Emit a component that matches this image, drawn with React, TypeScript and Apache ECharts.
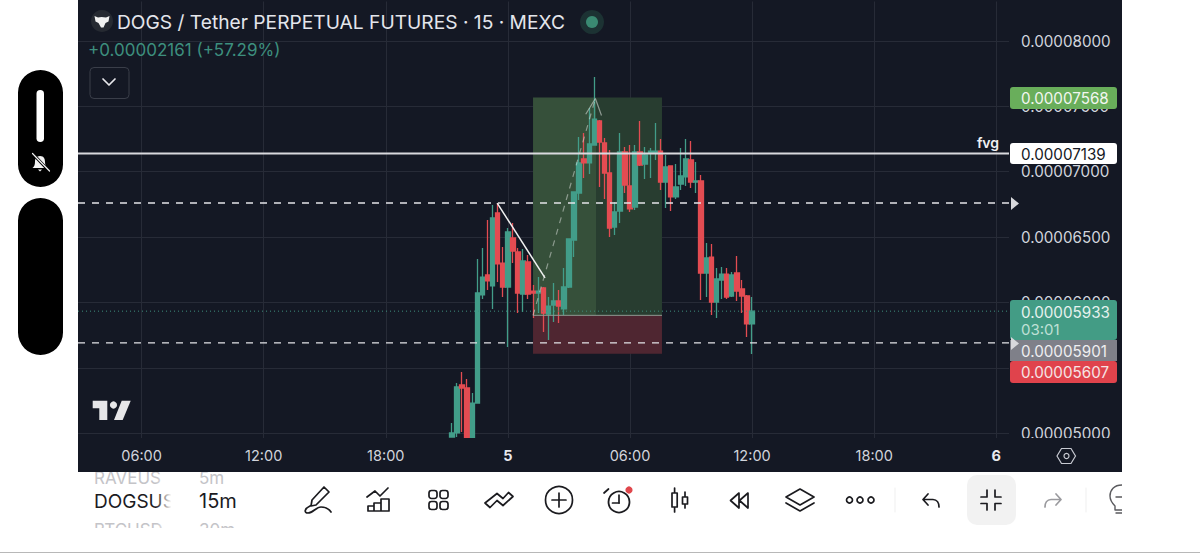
import React, { useEffect, useRef } from "react";
import * as echarts from "echarts";

// Prices are in units of 1e-8 USDT; the first candle sits on bar 73 of the time axis.
const firstCandleBar = 73;
const totalBars = 183;
const firstTickBar = 12;
const tickStep = 24;
const timeTicks = ["06:00", "12:00", "18:00", "5", "06:00", "12:00", "18:00", "6"];
const boldTicks = ["5", "6"];
const priceTicks = [5000, 6000, 6500, 7000, 7500, 8000];

const opens = [4970, 5001, 5368, 5345, 4950, 5230, 6057, 6210, 6126, 6684, 6301, 6118, 6493, 6386, 6064, 6309, 6087, 6072, 6110, 5911, 5980, 6011, 5950, 6118, 6477, 6837, 7097, 7067, 7204, 7388, 7220, 6990, 6577, 6699, 7151, 6891, 6730, 7151, 7059, 7143, 7143, 7158, 6921, 7044, 6807, 6906, 6960, 7090, 6921, 6929, 6225, 6347, 6003, 6171, 6217, 6049, 6225, 6103, 6049, 5835];
const closes = [5001, 5353, 5345, 4950, 5230, 6072, 6194, 6164, 6646, 6294, 6118, 6539, 6393, 6072, 6317, 6064, 6072, 6087, 5919, 5972, 6011, 5972, 6118, 6485, 6845, 7067, 7067, 7212, 7403, 7227, 6990, 6569, 6692, 7151, 6898, 6715, 7151, 7051, 7128, 7158, 7158, 6921, 7036, 6807, 6883, 6967, 7097, 6921, 6929, 6225, 6340, 6003, 6179, 6217, 6041, 6210, 6087, 6049, 5835, 5933];
const lows = [4970, 4970, 5008, 4950, 4950, 5230, 6026, 6095, 5950, 6156, 6041, 5659, 6301, 5919, 5927, 6026, 5881, 5919, 5774, 5712, 5850, 5842, 5904, 6110, 6347, 6783, 6952, 6982, 7204, 6883, 6791, 6500, 6516, 6608, 6837, 6692, 6707, 7044, 6944, 6952, 7090, 6860, 6722, 6699, 6791, 6860, 6891, 6875, 6837, 6018, 6041, 5904, 5881, 6026, 6026, 6041, 6011, 5919, 5735, 5605];
const highs = [5077, 5383, 5468, 5414, 5307, 6332, 6416, 6630, 6745, 6761, 6424, 6569, 6608, 6416, 6409, 6363, 6133, 6194, 6118, 6041, 6148, 6095, 6263, 6490, 6850, 7265, 7296, 7487, 7725, 7396, 7258, 7166, 6768, 7296, 7189, 7204, 7204, 7388, 7189, 7181, 7373, 7250, 7128, 7044, 7059, 7181, 7250, 7235, 7074, 6975, 6455, 6447, 6263, 6271, 6263, 6233, 6355, 6171, 6057, 6041];

const fvgPrice = 7139;
const lastPrice = 5933;
const dashedPrices = [6760, 5690];
const targetPrice = 7568;
const entryPrice = 5901;
const stopPrice = 5607;
const positionBars = [88.94, 101.32, 114.29];
const trendLine = [[81.9, 6760], [91.3, 6187]];
const projection = [[88.94, 5901], [101.2, 7560]];
const arrowHead = [[99.3, 7440], [101.2, 7560], [102.4, 7430]];

const C = {
  bg: "#141824", grid: "#272b37", text: "#d1d4dc", up: "#429d89", down: "#e34c52",
  ink: "#1b1b1f",
};
const FONT = "Inter, 'Noto Sans', sans-serif";

const icons: Record<string, string> = {
  dogHead: "M94.5 16 L98 17.5 C100 16.7 103 16.7 106 17.5 L109.5 16 L108.5 21.5 L105.5 23 L103.5 27.5 L101 27.5 L98.5 23 L95.5 21.5 Z",
  pencil: "M324 487 L329 492 L316 505 L311 506 L312 500 Z M310 506 C304 509 304 513 308 513 C313 513 316 507 321 507 C325 507 329 509 331 512",
  bars: "M368 511 V506 H374 V511 Z M374 511 V503 H381 V511 Z M381 511 V499 H389 V511 Z M367 497 L375 491 L380 496 L388 488",
  zigzag: "M485 503 L490 507.5 L497 500.5 L503 505.5 L513 496.5 L508.5 492.5 L503 498.5 L497 493.5 Z",
  candles: "M674.6 488 V493 M674.6 507 V512 M672 493 H677.2 V507 H672 Z M685 492 V497 M685 504 V508 M682.5 497 H687.5 V504 H682.5 Z",
  rewind: "M739 493 L730.5 500.5 L739 508 Z M748 493 L739.5 500.5 L748 508 Z",
  layers: "M800 489 L814 497 L800 505 L786 497 Z M786 503 L800 511 L814 503",
  undo: "M928 494 L923 499.5 L928 505 M923 499.5 H933 C937 499.5 939 503 939 507",
  compress: "M981 497 H987 V490 M995 490 V497 H1001 M981 503.5 H987 V510 M995 510 V503.5 H1001",
  redo: "M1056 494 L1061 499.5 L1056 505 M1061 499.5 H1051 C1047 499.5 1045 503 1045 507",
  bulb: "M1122 485 C1114 485 1110 490 1110 496 C1110 501 1113 504 1115 506 V510 H1122 M1116 513 H1122 M1116 497 H1122",
  chevron: "M103 79 L109 85 L115 79",
  bellSlash: "M40 156 C36 156 35 159 35 162 C35 165 34 167 32.5 168 H47.5 C46 167 45 165 45 162 C45 159 44 156 40 156 Z M38 169.5 H42 L40 171.5 Z",
};
Object.entries(icons).forEach(([name, d]) => {
  echarts.graphic.registerShape(name, echarts.graphic.extendPath(d, {}));
});

const label = (text: string, x: number, y: number, o: any = {}) => ({
  type: "text", x, y, z: o.z ?? 120,
  style: {
    text, fill: o.fill ?? C.text, font: `${o.weight ?? 400} ${o.size ?? 15.2}px ${FONT}`,
    textAlign: o.align ?? "left", textVerticalAlign: "middle", textBaseline: "middle",
  },
});
const rect = (x: number, y: number, width: number, height: number, fill: any, r = 0, z = 100, extra: any = {}) => ({
  type: "rect", z, shape: { x, y, width, height, r }, style: { fill, ...extra },
});
const stroke = (name: string, color = C.ink, lineWidth = 1.7, z = 120) => ({
  type: name, x: 0, y: 0, z, style: { fill: "none", stroke: color, lineWidth, lineJoin: "round", lineCap: "round" },
});
const solid = (name: string, color: string, z = 120) => ({ type: name, x: 0, y: 0, z, style: { fill: color } });
const ring = (cx: number, cy: number, r: number, color = C.ink, lw = 1.7) => ({
  type: "circle", z: 120, shape: { cx, cy, r }, style: { fill: "none", stroke: color, lineWidth: lw },
});
const seg = (x1: number, y1: number, x2: number, y2: number, color = C.ink, lw = 1.7, z = 120) => ({
  type: "line", z, shape: { x1, y1, x2, y2 }, style: { stroke: color, lineWidth: lw, lineCap: "round" },
});

function buildOption() {
  const categories = Array.from({ length: totalBars }, (_, i) => {
    const k = (i - firstTickBar) / tickStep;
    return Number.isInteger(k) && timeTicks[k] !== undefined ? timeTicks[k] : "";
  });
  const isTick = (i: number) => categories[i] !== "";
  const blank = Array.from({ length: firstCandleBar }, () => ["-", "-", "-", "-"]);
  const candles = [...blank, ...opens.map((o, i) => [o, closes[i], lows[i], highs[i]])];
  const hLine = (price: number, color: string, width: number, type: any, z = 4) => ({
    type: "line", xAxisIndex: 2, yAxisIndex: 0, z, silent: true, showSymbol: false,
    lineStyle: { color, width, type },
    data: [[-0.5, price], [totalBars - 0.5, price]],
  });
  const free = (points: number[][], color: string, width: number, type: any = "solid") => ({
    type: "line", xAxisIndex: 2, yAxisIndex: 0, z: 5, silent: true, showSymbol: false,
    lineStyle: { color, width, type }, data: points,
  });
  const area = (x1: number, x2: number, y1: number, y2: number, color: string) => [
    { xAxis: x1, yAxis: y1, itemStyle: { color } }, { xAxis: x2, yAxis: y2 },
  ];

  return {
    animation: false,
    backgroundColor: "#ffffff",
    // 1 price unit = 0.1307 px; the axis runs from 4500 (below the visible strip) to the top edge of the page
    grid: { left: 78, width: 931, top: 0, height: 498.45, containLabel: false },
    xAxis: [
      {
        type: "category", data: categories, boundaryGap: true, position: "bottom",
        axisLine: { show: false }, axisTick: { show: false }, axisLabel: { show: false },
        splitLine: { show: true, interval: isTick, alignWithLabel: true, lineStyle: { color: C.grid, width: 1 } },
      },
      {
        type: "category", data: categories, boundaryGap: true, z: 130, position: "bottom",
        axisLine: { show: false }, axisTick: { show: false }, splitLine: { show: false },
        axisLabel: {
          show: true, interval: isTick, margin: -50, color: C.text, fontFamily: FONT, fontSize: 14.5,
          formatter: (v: string) => (boldTicks.includes(v) ? `{b|${v}}` : v),
          rich: { b: { fontFamily: FONT, fontSize: 14.5, fontWeight: 700, color: "#e8e9ee" } },
        },
      },
      { type: "value", show: false, min: -0.5, max: totalBars - 0.5, splitLine: { show: false } },
    ],
    yAxis: {
      type: "value", min: 4500, max: 8313.7, interval: 500, position: "right",
      axisLine: { show: false }, axisTick: { show: false },
      splitLine: { show: true, lineStyle: { color: C.grid, width: 1 } },
      axisLabel: {
        margin: 12, color: C.text, fontFamily: FONT, fontSize: 15.2,
        formatter: (v: number) => (priceTicks.includes(v) ? (v / 1e8).toFixed(8) : ""),
      },
    },
    series: [
      {
        type: "line", xAxisIndex: 2, yAxisIndex: 0, z: 1, silent: true, showSymbol: false, data: [],
        markArea: {
          silent: true,
          data: [
            area(positionBars[0], positionBars[1], targetPrice, entryPrice, "#36503a"),
            area(positionBars[1], positionBars[2], targetPrice, entryPrice, "#283d30"),
            area(positionBars[0], positionBars[2], entryPrice, stopPrice, "#4f2631"),
          ],
        },
      },
      hLine(fvgPrice, "#d9d9de", 2, "solid"),
      hLine(lastPrice, "#3f8f7f", 1, [1, 3]),
      hLine(dashedPrices[0], "#e4e4e8", 1.4, [7, 7]),
      hLine(dashedPrices[1], "#e4e4e8", 1.4, [7, 7]),
      {
        type: "line", xAxisIndex: 2, yAxisIndex: 0, z: 3, silent: true, showSymbol: false,
        lineStyle: { color: "#8f9a92", width: 1 }, data: [[positionBars[0], entryPrice], [positionBars[2], entryPrice]],
      },
      {
        type: "candlestick", xAxisIndex: 0, yAxisIndex: 0, z: 2, barWidth: 5, silent: true,
        itemStyle: { color: C.up, color0: C.down, borderColor: C.up, borderColor0: C.down, borderWidth: 1.3, borderColorDoji: C.up },
        data: candles,
      },
      free(trendLine, "#f2f2f2", 1.5),
      free(projection, "rgba(225,230,225,0.5)", 1.2, [6, 6]),
      free(arrowHead, "rgba(225,230,225,0.55)", 1.2),
    ],
    graphic: {
      elements: [
        rect(78, 0, 1044, 472, C.bg, 0, -10),
        rect(78, 0, 932, 1.5, C.bg, 0, 100),
        rect(0, 472, 1200, 81, "#ffffff", 0, 100),
        label("RAVEUS", 94, 478, { size: 17, fill: "#c4c4c8", z: 101 }),
        label("5m", 199, 478, { size: 17, fill: "#c4c4c8", z: 101 }),
        rect(78, 438, 1044, 34, C.bg, 0, 102),
        rect(0, 552, 1200, 1, "#b8b8b8", 0, 121),

        // header
        { type: "circle", z: 120, shape: { cx: 102, cy: 21, r: 11 }, style: { fill: "#262a32" } },
        solid("dogHead", "#f2f2f2"),
        label("DOGS / Tether PERPETUAL FUTURES · 15 · MEXC", 117, 22, { size: 19.2, fill: "#e4e6ec" }),
        { type: "circle", z: 120, shape: { cx: 592, cy: 22, r: 12 }, style: { fill: "#1c3233" } },
        { type: "circle", z: 120, shape: { cx: 592, cy: 22, r: 6 }, style: { fill: "#3a8a72" } },
        label("+0.00002161 (+57.29%)", 88, 50, { size: 17, fill: "#3d8f7e" }),
        { type: "rect", z: 120, shape: { x: 90, y: 67.5, width: 39, height: 31, r: 4 }, style: { fill: "none", stroke: "#3a3e49", lineWidth: 1 } },
        stroke("chevron", "#e8e8ec", 1.7),

        // TradingView mark
        { type: "polygon", z: 120, shape: { points: [[92.7, 400.7], [107.3, 400.7], [107.3, 420], [99.3, 420], [99.3, 408.3], [92.7, 408.3]] }, style: { fill: "#e6e6e8" } },
        { type: "circle", z: 120, shape: { cx: 113.5, cy: 405, r: 3.6 }, style: { fill: "#e6e6e8" } },
        { type: "polygon", z: 120, shape: { points: [[121.7, 400.7], [130.7, 400.7], [122.7, 420], [114, 420]] }, style: { fill: "#e6e6e8" } },

        // price tags
        label("fvg", 988, 142, { size: 14, weight: 600, fill: "#f0f0f2", align: "center" }),
        rect(1010, 87, 107, 22, "#69ae5b", 3, 110),
        label((targetPrice / 1e8).toFixed(8), 1021, 98.5, { fill: "#f2f6f0" }),
        rect(1010, 143, 107, 21, "#ffffff", 3, 110),
        label((fvgPrice / 1e8).toFixed(8), 1021, 154, { fill: C.bg }),
        rect(1010, 361, 107, 22, "#e0434c", 3, 110),
        label((stopPrice / 1e8).toFixed(8), 1021, 372, { fill: "#f6e4e4" }),
        rect(1010, 340, 107, 21, "#7f8089", 0, 111),
        label((entryPrice / 1e8).toFixed(8), 1021, 351, { fill: "#eeeef0" }),
        rect(1010, 300, 107, 40, "#439c85", 3, 112),
        label((lastPrice / 1e8).toFixed(8), 1021, 312, { fill: "#e6f2ee" }),
        label("03:01", 1021, 329, { size: 15, fill: "#bfe0d6" }),
        { type: "polygon", z: 125, shape: { points: [[1011, 197], [1019, 203.5], [1011, 210]] }, style: { fill: "#d8d8dc" } },
        { type: "polygon", z: 125, shape: { points: [[1011, 337], [1019, 343.5], [1011, 350]] }, style: { fill: "#d8d8dc" } },

        // settings hexagon
        { type: "polygon", z: 135, shape: { points: [[1057, 456], [1061.5, 448.5], [1071, 448.5], [1075.5, 456], [1071, 463.5], [1061.5, 463.5]] }, style: { fill: "none", stroke: "#c8cad2", lineWidth: 1.2 } },
        { type: "circle", z: 135, shape: { cx: 1066.5, cy: 456, r: 2.5 }, style: { fill: "none", stroke: "#c8cad2", lineWidth: 1.2 } },

        // left pills
        rect(18, 70, 45, 117, "#000000", 22.5, 120),
        rect(18, 198, 45, 157, "#000000", 22.5, 120),
        rect(36.5, 90, 7.5, 52, "#ffffff", 3.75, 121),
        { ...solid("bellSlash", "#f2f2f2", 121) },
        seg(33, 154, 49, 171, "#000000", 3, 122),
        seg(32.5, 153.5, 49.5, 171, "#f2f2f2", 1.2, 123),

        // bottom toolbar
        label("BTCUSD", 94, 530, { size: 17, fill: "#c4c4c8", z: 101 }),
        label("30m", 199, 530, { size: 17, fill: "#c4c4c8", z: 101 }),
        rect(78, 528, 200, 14, "#ffffff", 0, 102),
        label("DOGSUS", 94, 501, { size: 19, fill: C.ink }),
        label("15m", 199, 501, { size: 20, fill: C.ink }),
        rect(156, 472, 22, 68, new echarts.graphic.LinearGradient(0, 0, 1, 0, [
          { offset: 0, color: "rgba(255,255,255,0)" }, { offset: 0.7, color: "rgba(255,255,255,1)" }, { offset: 1, color: "rgba(255,255,255,1)" },
        ]), 0, 122),
        stroke("pencil"),
        stroke("bars"),
        rect(429, 490.5, 8, 8, "none", 2.5, 120, { stroke: C.ink, lineWidth: 1.7 }),
        rect(440, 490.5, 8, 8, "none", 2.5, 120, { stroke: C.ink, lineWidth: 1.7 }),
        rect(429, 501.5, 8, 8, "none", 2.5, 120, { stroke: C.ink, lineWidth: 1.7 }),
        rect(440, 501.5, 8, 8, "none", 2.5, 120, { stroke: C.ink, lineWidth: 1.7 }),
        stroke("zigzag"),
        ring(559, 500, 13.5),
        seg(552, 500, 566, 500),
        seg(559, 493, 559, 507),
        ring(619, 502, 10.5, C.ink, 1.8),
        seg(619, 495, 619, 503),
        seg(619, 503, 612.5, 503),
        seg(604, 493, 608.5, 489),
        { type: "circle", z: 121, shape: { cx: 629, cy: 490, r: 3.6 }, style: { fill: "#e0474c" } },
        stroke("candles"),
        stroke("rewind"),
        stroke("layers"),
        ring(849.5, 500, 3),
        ring(860, 500, 3),
        ring(871, 500, 3),
        seg(895, 488, 895, 512, "#efefef", 1),
        stroke("undo"),
        rect(967, 475, 49, 50, "#f2f2f2", 10, 110),
        stroke("compress"),
        stroke("redo", "#9a9a9e"),
        seg(1086, 488, 1086, 512, "#efefef", 1),
        stroke("bulb", "#5a5a5e", 1.4),
        rect(1122, 0, 78, 552, "#ffffff", 0, 124),
      ],
    },
  };
}

export default function App() {
  const ref = useRef<HTMLDivElement>(null);
  useEffect(() => {
    const chart = echarts.init(ref.current!, undefined, { renderer: "svg" });
    chart.setOption(buildOption() as any);
    return () => chart.dispose();
  }, []);
  return <div ref={ref} style={{ position: "fixed", left: 0, top: 0, width: 1200, height: 553 }} />;
}
